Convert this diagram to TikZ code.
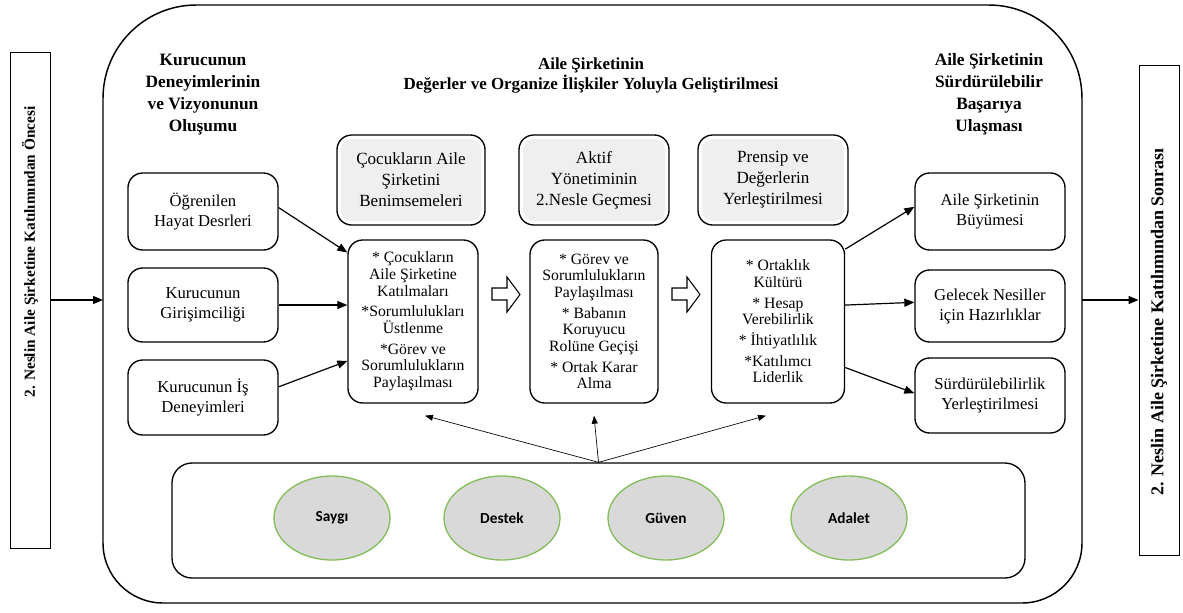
\documentclass[tikz,border=0pt]{standalone}
\usepackage{fontspec}
\setmainfont{Liberation Serif}
\newfontfamily\bodyface{Liberation Serif}
\newfontfamily\labelface{Carlito}
\usetikzlibrary{arrows.meta,shapes.geometric,calc}
\definecolor{panelgray}{HTML}{EFEFEF}
\definecolor{valuegray}{HTML}{D9D9D9}
\definecolor{valuegreen}{HTML}{84BE5A}
\begin{document}
\begin{tikzpicture}[x=0.75pt,y=-0.75pt,
  sz/.style 2 args={minimum width={#1*0.75pt}, minimum height={#2*0.75pt}},
  box/.style={draw, line width=1pt, rounded corners=11pt, align=center, inner sep=0pt,
    font=\bodyface\fontsize{12.5}{15}\selectfont},
  topbox/.style={box, fill=white, font=\bodyface\fontsize{12.8}{15.75}\selectfont,
    path picture={\fill[panelgray, rounded corners=8pt]
      ([shift={(3pt,3pt)}]path picture bounding box.south west) rectangle
      ([shift={(-3pt,-3pt)}]path picture bounding box.north east);}},
  listbox/.style={box, font=\bodyface\fontsize{11.8}{12.5}\selectfont},
  head/.style={align=center, inner sep=0pt, font=\bodyface\bfseries\fontsize{13}{16.5}\selectfont},
  sidebox/.style={draw, line width=0.7pt, inner sep=0pt},
  sidetext/.style={rotate=90, inner sep=0pt, font=\bodyface\bfseries\fontsize{11.5}{14}\selectfont},
  value/.style={ellipse, draw=valuegreen, line width=1pt, fill=valuegray, inner sep=0pt,
    font=\labelface\bfseries\fontsize{11.5}{13}\selectfont},
  link/.style={-{Triangle[length=7.5pt,width=6pt]}, line width=0.9pt},
  thinlink/.style={-{Triangle[length=6pt,width=4.5pt]}, line width=0.5pt},
  hollow/.style={draw, line width=0.8pt, fill=white, line join=miter}
]
\useasboundingbox (0,0) rectangle (1183,612);

% outer frame of the model
\draw[line width=1.1pt] (103,300) [rounded corners=70pt] -- (103,5) -- (1082,5) -- (1082,300)
  [rounded corners=45pt] -- (1082,603) -- (103,603) -- (103,300);
\coordinate (outerW) at (103,300);
\coordinate (outerE) at (1082,300);

% before / after side panels
\node[sidebox, sz={40}{496}] (before) at (30,300) {};
\node[sidetext] (beforetext) at (30,252) {2. Neslin Aile Şirketine Katılımından Öncesi};
\node[sidebox, sz={40}{490}] (after) at (1159,310) {};
\node[sidetext, font=\bodyface\bfseries\fontsize{13.5}{14}\selectfont] (aftertext) at (1159,322)
  {2. Neslin Aile Şirketine Katılımından Sonrası};

% column headings
\node[head] (h1) at (203,95) {Kurucunun\\Deneyimlerinin\\ve Vizyonunun\\Oluşumu};
\node[head, font=\bodyface\bfseries\fontsize{12.7}{15}\selectfont] (h2) at (591,75)
  {Aile Şirketinin\\Değerler ve Organize İlişkiler Yoluyla Geliştirilmesi};
\node[head] (h3) at (989,94.5) {Aile Şirketinin\\Sürdürülebilir\\Başarıya\\Ulaşması};

% founder inputs
\node[box, sz={150}{77}] (L1) at (203,211.5) {Öğrenilen\\Hayat Desrleri};
\node[box, sz={150}{74}] (L2) at (203,305) {Kurucunun\\Girişimciliği};
\node[box, sz={150}{75}] (L3) at (203,397.5) {Kurucunun İş\\Deneyimleri};

% stage titles
\node[topbox, sz={148}{90}] (G1) at (411,180) {Çocukların Aile\\Şirketini\\Benimsemeleri};
\node[topbox, sz={150}{90}] (G2) at (594,180) {Aktif\\Yönetiminin\\2.Nesle Geçmesi};
\node[topbox, sz={150}{90}] (G3) at (773,180) {Prensip ve\\Değerlerin\\Yerleştirilmesi};

% stage contents
\node[listbox, sz={130}{163}] (M1) at (413,321.5)
  {* Çocukların\\Aile Şirketine\\Katılmaları\\[3pt]*Sorumlulukları\\Üstlenme\\[3pt]*Görev ve\\Sorumlulukların\\Paylaşılması};
\node[listbox, sz={128}{163}] (M2) at (594,321.5)
  {* Görev ve\\Sorumlulukların\\Paylaşılması\\[3pt]* Babanın\\Koruyucu\\Rolüne Geçişi\\[3pt]* Ortak Karar\\Alma};
\node[listbox, sz={133}{163}] (M3) at (778,321.5)
  {* Ortaklık\\Kültürü\\[3pt]* Hesap\\Verebilirlik\\[3pt]* İhtiyatlılık\\[3pt]*Katılımcı\\Liderlik};

% outcomes
\node[box, sz={150}{77}] (R1) at (990,211.5) {Aile Şirketinin\\Büyümesi};
\node[box, sz={150}{72}] (R2) at (990,306) {Gelecek Nesiller\\için Hazırlıklar};
\node[box, sz={150}{75}] (R3) at (990,395.5) {Sürdürülebilirlik\\Yerleştirilmesi};

% shared values
\node[draw, line width=1pt, rounded corners=15pt, sz={853}{115}] (B) at (598.5,520.5) {};
\node[value, sz={116}{84}] (v1) at (332,518) {Saygı};
\node[value, sz={116}{84}] (v2) at (502,518) {Destek};
\node[value, sz={116}{84}] (v3) at (666,518) {Güven};
\node[value, sz={116}{84}] (v4) at (849,518) {Adalet};

% hollow progression arrows
\draw[hollow] (492,288) -- (507,288) -- (507,277) -- (520,294.5) -- (507,312) -- (507,300) -- (492,300) -- cycle;
\draw[hollow] (672,288) -- (687,288) -- (687,277) -- (700,294.5) -- (687,312) -- (687,300) -- (672,300) -- cycle;

% connectors
\draw[link] (outerE) -- (after.west |- outerE);
\draw[link] (before.east |- outerW) -- (outerW);
\draw[link] ($(L1.north east)!0.45!(L1.south east)$) -- ($(M1.north west)!0.08!(M1.south west)$);
\draw[link] (L2.east) -- (M1.west |- L2.east);
\draw[link] ($(L3.north east)!0.36!(L3.south east)$) -- ($(M1.north west)!0.74!(M1.south west)$);
\draw[link] ($(M3.north east)!0.06!(M3.south east)$) -- ($(R1.north west)!0.44!(R1.south west)$);
\draw[link] ($(M3.north east)!0.40!(M3.south east)$) -- ($(R2.north west)!0.45!(R2.south west)$);
\draw[link] ($(M3.north east)!0.78!(M3.south east)$) -- ($(R3.north west)!0.47!(R3.south west)$);
\draw[thinlink] (B.north) -- ([xshift=12*0.75pt, yshift=-12*0.75pt]M1.south);
\draw[thinlink] (B.north) -- ([yshift=-12*0.75pt]M2.south);
\draw[thinlink] (B.north) -- ([xshift=-12*0.75pt, yshift=-12*0.75pt]M3.south);
\end{tikzpicture}
\end{document}
